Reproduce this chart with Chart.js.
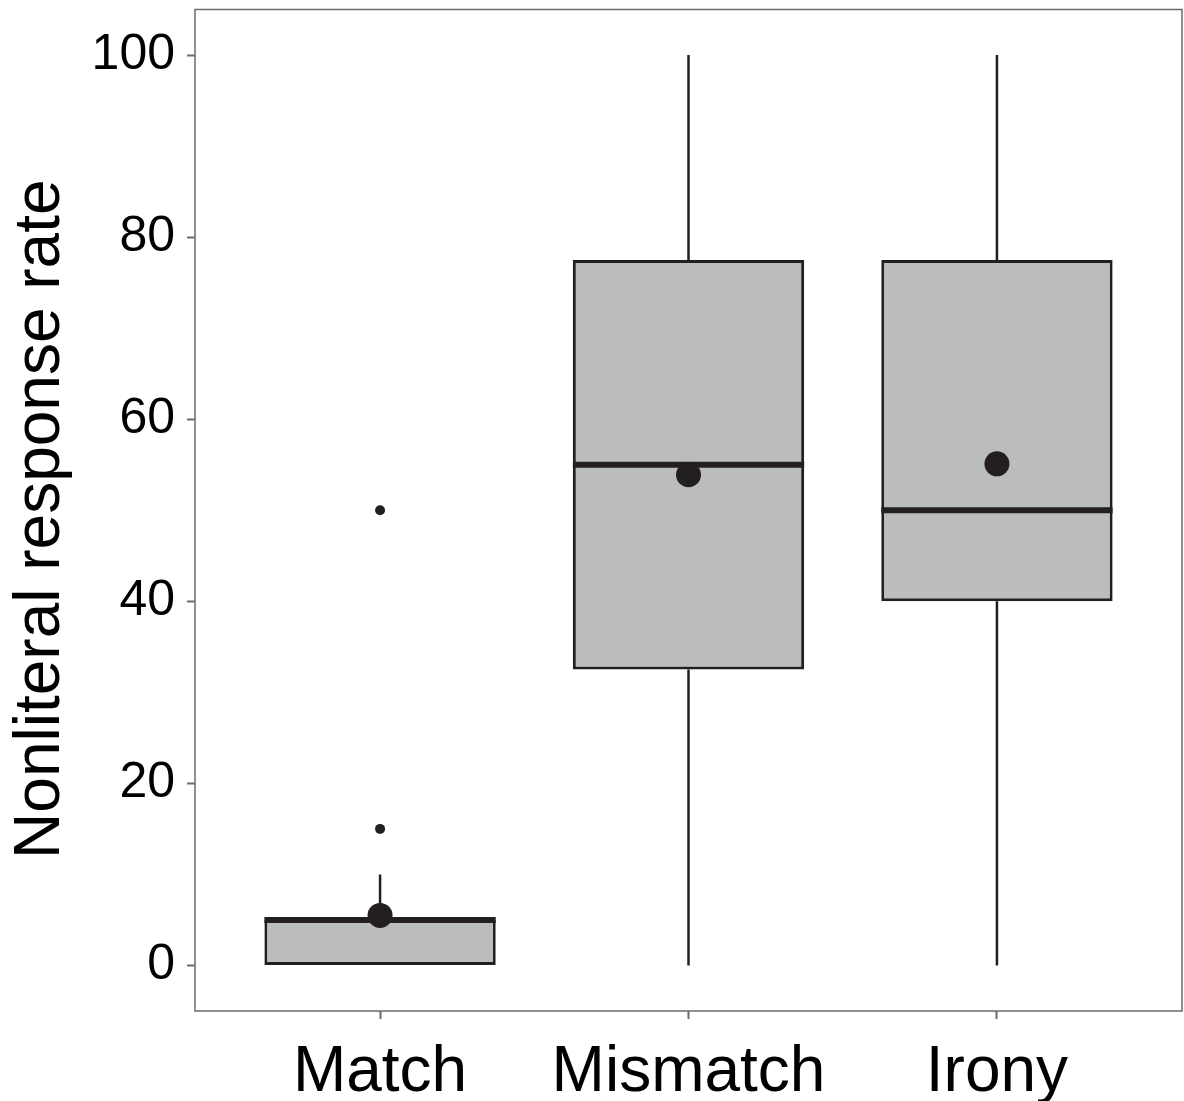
<!DOCTYPE html>
<html><head><meta charset="utf-8">
<script src="https://cdn.jsdelivr.net/npm/chart.js@4"></script>
<style>html,body{margin:0;padding:0;background:#fff}</style>
</head><body>
<canvas id="c" width="1184" height="1101"></canvas>
<script>
const categories = ['Match', 'Mismatch', 'Irony'];
const q1 = [0, 32.5, 40];
const median = [5, 55, 50];
const q3 = [5, 77.5, 77.5];
const whiskerLow = [0, 0, 0];
const whiskerHigh = [10, 100, 100];
const means = [5.5, 53.9, 55.1];
const outliers = [[15, 50], [], []];
const yTicks = [0, 20, 40, 60, 80, 100];
const yTitle = 'Nonliteral response rate';

const INK = '#231f20', FILL = '#bbbcbe', FRAME = '#6b6b6b';
const FONT = '"Liberation Sans", Arial, sans-serif';
const BOX_W = 0.75;
const pos = categories.map((_, i) => i + 1);

const datasets = [];
datasets.push({
  type: 'bar',
  data: pos.map((x, i) => ({ x, y: [q1[i], q3[i]] })),
  backgroundColor: FILL, borderColor: INK, borderWidth: 3, borderSkipped: false,
  categoryPercentage: 1, barPercentage: BOX_W, order: 5
});
pos.forEach((x, i) => {
  datasets.push({
    type: 'line',
    data: [{ x, y: q3[i] }, { x, y: whiskerHigh[i] }],
    borderColor: INK, borderWidth: 2.5, pointRadius: 0, order: 6
  });
  if (whiskerLow[i] < q1[i]) datasets.push({
    type: 'line',
    data: [{ x, y: whiskerLow[i] }, { x, y: q1[i] }],
    borderColor: INK, borderWidth: 2.5, pointRadius: 0, order: 6
  });
});
pos.forEach((x, i) => datasets.push({
  type: 'line',
  data: [{ x: x - BOX_W / 2, y: median[i] }, { x: x + BOX_W / 2, y: median[i] }],
  borderColor: INK, borderWidth: 6, pointRadius: 0, borderCapStyle: 'butt', order: 2
}));
datasets.push({
  type: 'scatter',
  data: pos.flatMap((x, i) => outliers[i].map(y => ({ x, y }))),
  pointRadius: 5, backgroundColor: INK, borderWidth: 0, order: 1
});
datasets.push({
  type: 'scatter',
  data: pos.map((x, i) => ({ x, y: means[i] })),
  pointRadius: 12.5, backgroundColor: INK, borderWidth: 0, order: 0
});

const framePlugin = {
  id: 'frame',
  beforeDatasetsDraw(chart) {
    const { ctx, chartArea: a } = chart;
    ctx.save();
    ctx.strokeStyle = FRAME;
    ctx.lineWidth = 1.5;
    ctx.strokeRect(a.left, a.top, a.right - a.left, a.bottom - a.top);
    ctx.restore();
  }
};

const gridOpts = {
  display: true, drawOnChartArea: false, drawTicks: true,
  tickLength: 8, tickWidth: 2, tickColor: FRAME, offset: false
};

new Chart(document.getElementById('c'), {
  type: 'bar',
  data: { datasets },
  options: {
    responsive: false,
    animation: false,
    layout: { autoPadding: false, padding: { top: 9.5, right: 2, left: 0, bottom: 0 } },
    plugins: { legend: { display: false }, tooltip: { enabled: false } },
    scales: {
      x: {
        type: 'linear', min: 0.4, max: 3.6, offset: false,
        afterBuildTicks: s => { s.ticks = pos.map(v => ({ value: v })); },
        afterFit: s => { s.height = 90; s.paddingLeft = 0; s.paddingRight = 0; s.paddingTop = 0; s.paddingBottom = 0; },
        ticks: {
          callback: (v, i) => categories[i],
          font: { family: FONT, size: 64 }, color: '#000',
          padding: 16, maxRotation: 0, autoSkip: false
        },
        grid: gridOpts,
        border: { display: false }
      },
      y: {
        type: 'linear', min: -5, max: 105,
        afterBuildTicks: s => { s.ticks = yTicks.map(v => ({ value: v })); },
        afterFit: s => { s.width = 195; s.paddingLeft = 0; s.paddingRight = 0; s.paddingTop = 0; s.paddingBottom = 0; },
        ticks: { font: { family: FONT, size: 50 }, color: '#000', padding: 12 },
        grid: gridOpts,
        border: { display: false },
        title: {
          display: true, text: yTitle + '\u00A0', color: '#000',
          font: { family: FONT, size: 64 }, padding: { top: 3, bottom: 0 }
        }
      }
    }
  },
  plugins: [framePlugin]
});
</script>
</body></html>
